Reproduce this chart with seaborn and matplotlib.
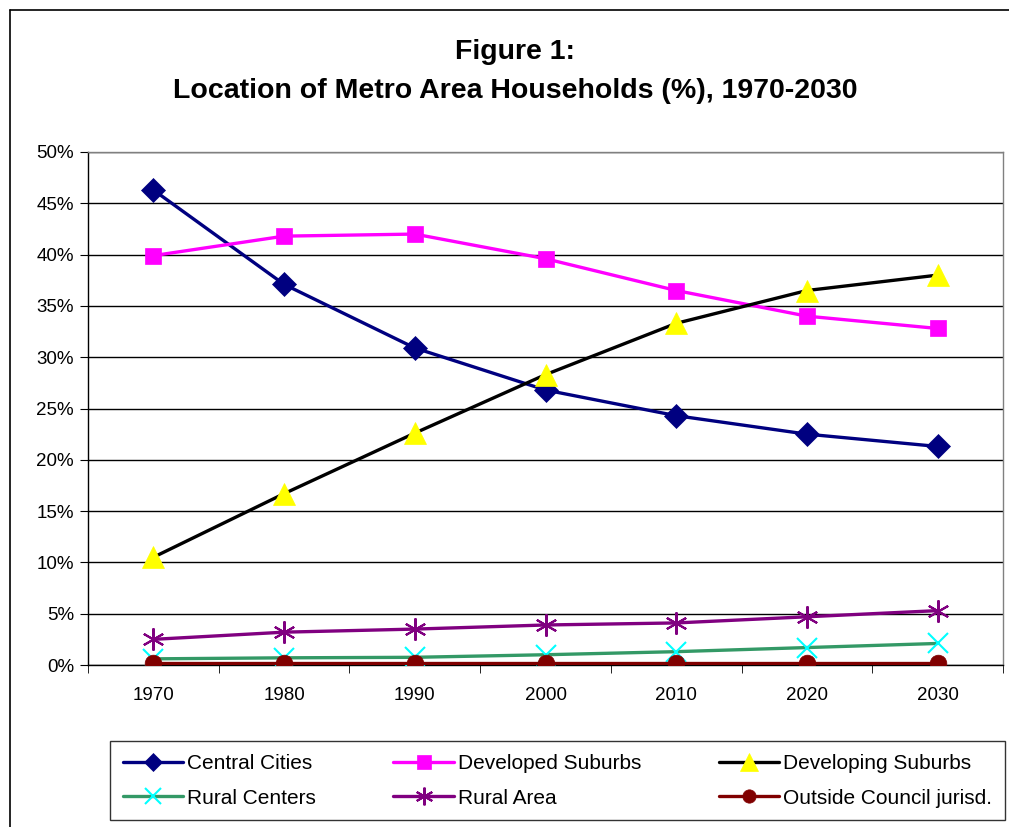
import matplotlib.pyplot as plt
import matplotlib.lines as mlines
import numpy as np
import pandas as pd
import seaborn as sns

sns.set_style("white")
plt.rcParams["font.family"] = ["Liberation Sans", "DejaVu Sans"]
plt.rcParams.update({"text.color": "black", "xtick.color": "black", "ytick.color": "black"})

years = [1970, 1980, 1990, 2000, 2010, 2020, 2030]
central_cities = [46.3, 37.1, 30.9, 26.8, 24.3, 22.5, 21.3]
developed_suburbs = [39.9, 41.8, 42.0, 39.6, 36.5, 34.0, 32.8]
developing_suburbs = [10.5, 16.7, 22.6, 28.3, 33.3, 36.5, 38.0]
rural_centers = [0.6, 0.7, 0.75, 1.0, 1.3, 1.7, 2.1]
rural_area = [2.5, 3.2, 3.5, 3.9, 4.1, 4.7, 5.3]
outside_council = [0.2, 0.2, 0.2, 0.2, 0.2, 0.2, 0.2]

series = [
    ("Central Cities", central_cities),
    ("Developed Suburbs", developed_suburbs),
    ("Developing Suburbs", developing_suburbs),
    ("Rural Centers", rural_centers),
    ("Rural Area", rural_area),
    ("Outside Council jurisd.", outside_council),
]

# line colour, marker, marker face, marker edge, marker size
styles = {
    "Central Cities": ("#000080", "D", "#000080", "#000080", 12),
    "Developed Suburbs": ("#FF00FF", "s", "#FF00FF", "#FF00FF", 12),
    "Developing Suburbs": ("#000000", "^", "#FFFF00", "#FFFF00", 16),
    "Rural Centers": ("#339966", "x", "#00FFFF", "#00FFFF", 14),
    "Rural Area": ("#800080", (6, 2, 0), "#800080", "#800080", 16),
    "Outside Council jurisd.": ("#800000", "o", "#800000", "#800000", 12),
}

df = pd.DataFrame(
    [(name, y, v) for name, vals in series for y, v in zip(years, vals)],
    columns=["Series", "Year", "Value"],
)

fig = plt.figure(figsize=(10.09, 8.27), dpi=100)
ax = fig.add_axes([88 / 1009, 1 - 665 / 827, 915 / 1009, 513 / 827])

for name, _ in series:
    color, marker, mfc, mec, ms = styles[name]
    sub = df[df["Series"] == name]
    sns.lineplot(
        data=sub, x="Year", y="Value", ax=ax, color=color, linewidth=2.4,
        marker=marker, markerfacecolor=mfc, markeredgecolor=mec,
        markersize=ms, markeredgewidth=1.5 if marker in ("x", (6, 2, 0)) else 0.5,
        label=name, legend=False, zorder=3,
    )

ax.set_xlim(1965, 2035)
ax.set_ylim(0, 50)
ax.set_yticks(np.arange(0, 51, 5))
ax.set_yticklabels([f"{v}%" for v in range(0, 51, 5)], fontsize=13.5)
ax.set_xticks(years)
ax.set_xticklabels([str(y) for y in years], fontsize=13.5)
ax.set_xticks(np.arange(1965, 2036, 10), minor=True)
ax.tick_params(axis="x", which="major", length=0, pad=16)
ax.tick_params(axis="x", which="minor", length=6, color="#000000", direction="out", bottom=True)
ax.tick_params(axis="y", which="major", length=6, color="#000000", direction="out", left=True, pad=4)
ax.set_xlabel("")
ax.set_ylabel("")
ax.yaxis.grid(True, color="#000000", linewidth=1)
ax.set_axisbelow(True)
for side in ["top", "right"]:
    ax.spines[side].set_color("#808080")
    ax.spines[side].set_linewidth(1)
for side in ["left", "bottom"]:
    ax.spines[side].set_color("#000000")
    ax.spines[side].set_linewidth(1)

fig.text(515 / 1009, 1 - 52 / 827, "Figure 1:", ha="center", va="center",
         fontsize=20.5, fontweight="bold")
fig.text(515 / 1009, 1 - 91 / 827, "Location of Metro Area Households (%), 1970-2030",
         ha="center", va="center", fontsize=20.5, fontweight="bold")

# outer chart frame
fig.add_artist(mlines.Line2D([10 / 1009, 10 / 1009], [0, 1 - 10 / 827], color="#000000", lw=1.2))
fig.add_artist(mlines.Line2D([10 / 1009, 1], [1 - 10 / 827, 1 - 10 / 827], color="#000000", lw=1.2))

handles = []
for name, _ in series:
    color, marker, mfc, mec, ms = styles[name]
    handles.append(mlines.Line2D([], [], color=color, lw=2.4, marker=marker,
                                 markerfacecolor=mfc, markeredgecolor=mec,
                                 markersize=ms * 0.8,
                                 markeredgewidth=1.5 if marker in ("x", (6, 2, 0)) else 0.5))
labels = [n for n, _ in series]
# legend fills column by column, so reorder to read across rows
order = [0, 3, 1, 4, 2, 5]
leg = fig.legend(
    [handles[i] for i in order], [labels[i] for i in order], ncol=3,
    loc="lower left", bbox_to_anchor=(110 / 1009, 7 / 827, 895 / 1009, 79 / 827),
    mode="expand", fontsize=15, frameon=True, fancybox=False, edgecolor="#000000",
    handlelength=2.9, handletextpad=0.2, borderpad=0.6, labelspacing=0.75,
    borderaxespad=0,
)
leg.get_frame().set_linewidth(1)

fig.savefig("out.png", dpi=100)
